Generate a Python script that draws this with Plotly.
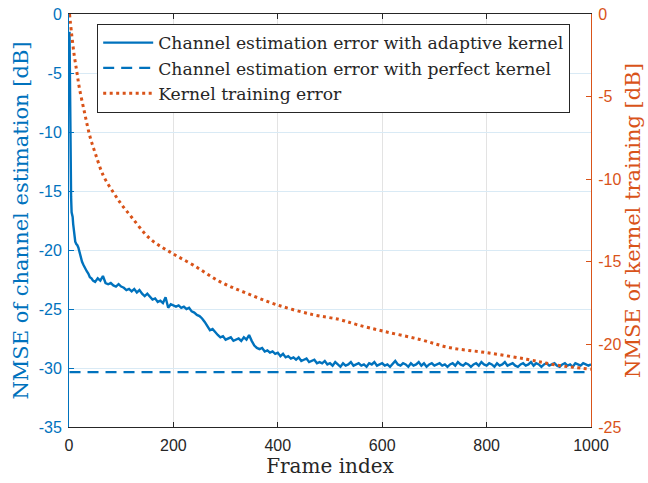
import plotly.graph_objects as go

# ---- data -------------------------------------------------------------
# channel estimation NMSE with adaptive kernel (left axis, dB)
early_frames = [1, 2, 3, 4, 5, 6, 7, 8, 10, 12, 14, 16, 18, 20, 22, 25, 28,
                31, 34, 37, 40, 43, 46]
early_nmse = [-1.5, -8.0, -13.0, -15.5, -16.8, -17.0, -17.2, -17.8, -18.6,
              -19.3, -19.5, -19.6, -19.8, -20.2, -20.6, -21.0, -21.3, -21.6,
              -21.8, -22.0, -22.3, -22.4, -22.6]
late_frames = list(range(50, 1001, 5))
late_nmse = [
    -22.7, -22.4, -22.6, -22.2, -22.8, -22.9, -22.8, -23.0, -23.1, -22.9,
    -23.1, -23.2, -23.4, -23.3, -23.5, -23.3, -23.6, -23.4, -23.7, -23.9,
    -23.7, -24.0, -24.2, -24.1, -24.4, -24.3, -24.5, -24.0, -24.9, -24.6,
    -24.7, -24.8, -24.7, -24.9, -24.8, -25.0, -24.9, -25.2, -25.3, -25.5,
    -25.6, -25.8, -26.1, -26.5, -26.8, -26.7, -27.0, -27.2, -27.4, -27.3,
    -27.6, -27.5, -27.4, -27.7, -27.6, -27.5, -27.7, -27.4, -27.6, -27.2,
    -27.7, -28.1, -28.3, -28.4, -28.3, -28.6, -28.5, -28.7, -28.6, -28.8,
    -28.7, -29.0, -28.8, -29.1, -29.0, -29.2, -29.1, -29.3, -29.1, -29.4,
    -29.3, -29.2, -29.5, -29.4, -29.3, -29.6, -29.5, -29.6, -29.4, -29.7,
    -29.6, -29.8, -29.5, -29.7, -29.9, -29.6, -29.8, -29.7, -29.5, -29.8,
    -29.7, -29.6, -29.8, -29.7, -29.9, -29.6, -29.7, -29.5, -29.8, -29.7,
    -29.6, -29.8, -29.7, -29.9, -29.6, -29.4, -29.7, -29.8, -29.6, -29.7,
    -29.9, -29.6, -29.8, -29.7, -29.5, -29.8, -29.6, -29.9, -29.7, -29.6,
    -29.8, -29.7, -29.6, -29.8, -29.7, -29.9, -29.7, -29.6, -29.8, -29.5,
    -29.7, -29.8, -29.6, -29.7, -29.9, -29.7, -29.6, -29.8, -29.5, -29.7,
    -29.8, -29.6, -29.7, -29.9, -29.6, -29.8, -29.7, -29.5, -29.8, -29.7,
    -29.6, -29.8, -29.9, -29.7, -29.6, -29.8, -29.7, -29.5, -29.8, -29.6,
    -29.7, -29.9, -29.7, -29.6, -29.8, -29.7, -29.6, -29.8, -29.9, -29.7,
    -29.6, -29.8, -29.7, -29.9, -29.6, -29.7, -29.8, -29.6, -29.7, -29.8,
    -29.7,
]
adaptive_frames = early_frames + late_frames
adaptive_nmse = early_nmse + late_nmse

# channel estimation NMSE with perfect kernel (constant level, dB)
perfect_frames = [1, 1000]
perfect_nmse = [-30.35, -30.35]

# kernel training NMSE (right axis, dB)
kernel_frames = [1, 5, 10, 15, 20, 30, 40, 50, 66, 85, 100, 120, 155, 193,
                 238, 289, 340, 398, 467, 519, 551, 602, 672, 730, 800, 877,
                 934, 1000]
kernel_nmse = [0.0, -1.2, -2.5, -3.5, -4.5, -6.0, -7.4, -8.4, -9.8, -10.8,
               -11.5, -12.3, -13.6, -14.4, -15.2, -16.2, -16.9, -17.6, -18.2,
               -18.5, -18.8, -19.2, -19.7, -20.2, -20.5, -20.9, -21.25, -21.5]

left_ticks = [0, -5, -10, -15, -20, -25, -30, -35]
right_ticks = [0, -5, -10, -15, -20, -25]
x_ticks = [0, 200, 400, 600, 800, 1000]

BLUE = "#0072BD"
ORANGE = "#D95319"
INK = "#262626"
SERIF = "DejaVu Serif, Liberation Serif, serif"
SANS = "Liberation Sans, Arial, sans-serif"

fig = go.Figure()
fig.add_trace(go.Scatter(
    x=adaptive_frames, y=adaptive_nmse, mode="lines",
    name="Channel estimation error with adaptive kernel",
    line=dict(color=BLUE, width=2.4)))
fig.add_trace(go.Scatter(
    x=perfect_frames, y=perfect_nmse, mode="lines",
    name="Channel estimation error with perfect kernel",
    line=dict(color=BLUE, width=2.2, dash="11px,7px")))
fig.add_trace(go.Scatter(
    x=kernel_frames, y=kernel_nmse, mode="lines", yaxis="y2",
    name="Kernel training error",
    line=dict(color=ORANGE, width=3, dash="3px,3.5px", shape="spline")))

fig.update_layout(
    width=648, height=483,
    margin=dict(l=69, r=57, t=14, b=56),
    paper_bgcolor="white", plot_bgcolor="white",
    showlegend=True,
    legend=dict(
        x=0.054, y=0.976, xanchor="left", yanchor="top",
        bgcolor="white", bordercolor=INK, borderwidth=1,
        font=dict(family=SERIF, size=17.2, color=INK),
        tracegroupgap=0, itemwidth=50),
    xaxis=dict(
        range=[0, 1000], tickvals=x_ticks,
        ticktext=[str(v) for v in x_ticks],
        automargin=False,
        showgrid=True, gridcolor="#e3e3e3", gridwidth=1,
        zeroline=False,
        showline=True, linecolor=INK, linewidth=1, mirror="ticks",
        ticks="inside", ticklen=5, tickcolor=INK,
        ticklabelstandoff=4,
        tickfont=dict(family=SANS, size=16, color=INK),
        title=dict(text="Frame index", standoff=2,
                   font=dict(family=SERIF, size=20, color=INK))),
    yaxis=dict(
        range=[-35, 0], tickvals=left_ticks,
        ticktext=[str(v) for v in left_ticks],
        automargin=False,
        showgrid=True, gridcolor="#d9eaf5", gridwidth=1,
        zeroline=False,
        showline=True, linecolor=BLUE, linewidth=1,
        ticks="inside", ticklen=5, tickcolor=BLUE,
        ticklabelstandoff=3,
        tickfont=dict(family=SANS, size=16, color=BLUE),
        title=dict(text="NMSE of channel estimation [dB]", standoff=4,
                   font=dict(family=SERIF, size=21, color=BLUE))),
    yaxis2=dict(
        range=[-25, 0], tickvals=right_ticks,
        ticktext=[str(v) for v in right_ticks],
        overlaying="y", side="right", automargin=False,
        showgrid=False, zeroline=False,
        showline=True, linecolor=ORANGE, linewidth=1,
        ticks="inside", ticklen=5, tickcolor=ORANGE,
        ticklabelstandoff=3,
        tickfont=dict(family=SANS, size=16, color=ORANGE),
        title=dict(text="NMSE of kernel training [dB]", standoff=4,
                   font=dict(family=SERIF, size=21, color=ORANGE))),
)

fig.write_html("out.html")
